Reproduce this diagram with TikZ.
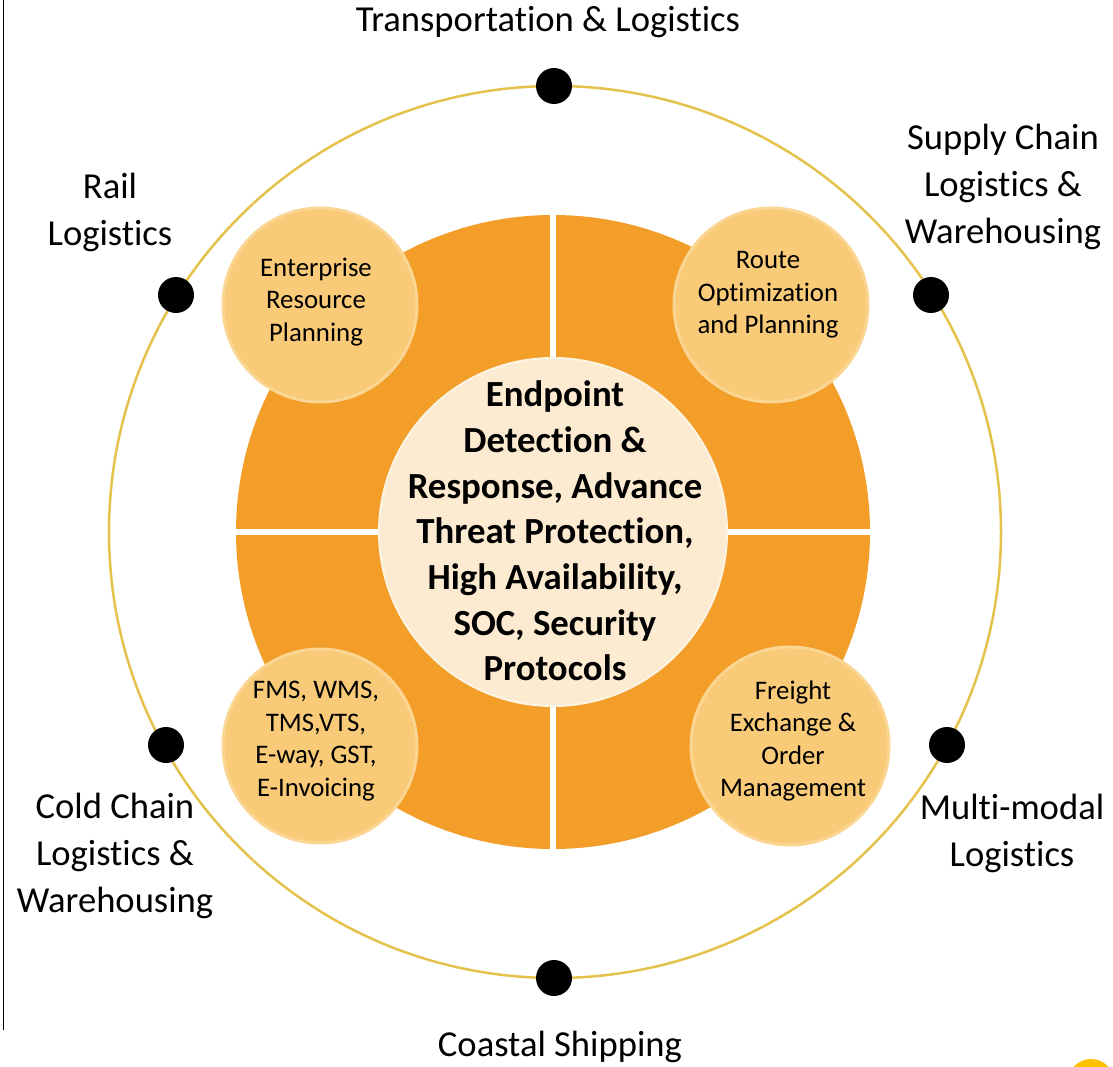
\documentclass[tikz,border=0pt]{standalone}
\usepackage{fontspec}
\setmainfont{Carlito}[Ligatures={NoCommon,NoRequired,NoContextual}, RawFeature={-liga;-clig;-calt;-dlig}]
\definecolor{ringorange}{HTML}{F29E29}
\definecolor{petal}{HTML}{F9CA77}
\definecolor{petaledge}{HTML}{FBD592}
\definecolor{cream}{HTML}{FCEBD1}
\definecolor{orbit}{HTML}{E4C24C}
\definecolor{sunny}{HTML}{FFC000}
\tikzset{
  outerlabel/.style={align=center, inner sep=0pt, font=\fontsize{36.6}{47}\selectfont},
  petaltext/.style={align=center, inner sep=0pt, font=\fontsize{26.8}{32.5}\selectfont},
  hubtext/.style={align=center, inner sep=0pt, font=\bfseries\fontsize{36.8}{45.7}\selectfont},
  petaldisc/.style={circle, fill=petal, draw=petaledge, line width=3pt, minimum size=194pt, inner sep=0pt},
  orbitdot/.style={circle, fill=black, minimum size=36pt, inner sep=0pt},
  gap/.style={white, line width=6pt}
}
\begin{document}
\begin{tikzpicture}[x=1pt, y=-1pt]
\useasboundingbox (0,0) rectangle (1113,1067);
\fill[white] (0,0) rectangle (1113,1067);

% frame line at the left edge
\coordinate (edgetop) at (3,0);
\coordinate (edgebot) at (3,1030);
\draw[black, line width=1pt] (edgetop) -- (edgebot);

% orbit
\coordinate (c) at (555,532);
\draw[orbit, line width=2.5pt] (c) circle[radius=446];

% orange ring split into quarters
\fill[ringorange] (553,532) circle[radius=317];
\coordinate (gapN) at (553,205);
\coordinate (gapS) at (553,860);
\coordinate (gapW) at (226,532);
\coordinate (gapE) at (880,532);
\draw[gap] (gapN) -- (gapS);
\draw[gap] (gapW) -- (gapE);

% hub
\node[circle, fill=cream, draw=cream!60!white, line width=2pt, minimum size=348pt, inner sep=0pt] (hub) at (553,532) {};
\node[hubtext] (hubtxt) at (555,531) {Endpoint\\Detection \&\\Response, Advance\\Threat Protection,\\High Availability,\\SOC, Security\\Protocols};

% petals
\node[petaldisc] (erp) at (320,305) {};
\node[petaldisc] (route) at (771,305) {};
\node[petaldisc] (fms) at (320,746) {};
\node[petaldisc, minimum size=198pt] (freight) at (790,746) {};

\node[petaltext] (erptxt) at (316,302) {Enterprise\\Resource\\Planning};
\node[petaltext] (routetxt) at (768,295) {Route\\Optimization\\and Planning};
\node[petaltext] (fmstxt) at (316,741) {FMS, WMS,\\TMS,VTS,\\E-way, GST,\\E-Invoicing};
\node[petaltext] (freighttxt) at (793,741) {Freight\\Exchange \&\\Order\\Management};

% dots on the orbit
\node[orbitdot] (dN) at (554,86) {};
\node[orbitdot] (dS) at (554,978) {};
\node[orbitdot] (dNW) at (176,295) {};
\node[orbitdot] (dNE) at (931,295) {};
\node[orbitdot] (dSW) at (166,745) {};
\node[orbitdot] (dSE) at (947,745) {};

% sector labels
\node[outerlabel] (lN) at (548,22) {Transportation \& Logistics};
\node[outerlabel] (lNW) at (110,212) {Rail\\Logistics};
\node[outerlabel] (lNE) at (1003,187) {Supply Chain\\Logistics \&\\Warehousing};
\node[outerlabel] (lSW) at (115,856) {Cold Chain\\Logistics \&\\Warehousing};
\node[outerlabel] (lSE) at (1012,833) {Multi-modal\\Logistics};
\node[outerlabel] (lS) at (560,1047) {Coastal Shipping};

% corner mark
\begin{scope}
\clip (0,0) rectangle (1113,1067);
\fill[sunny] (1091,1082) circle[radius=23];
\end{scope}
\end{tikzpicture}
\end{document}
